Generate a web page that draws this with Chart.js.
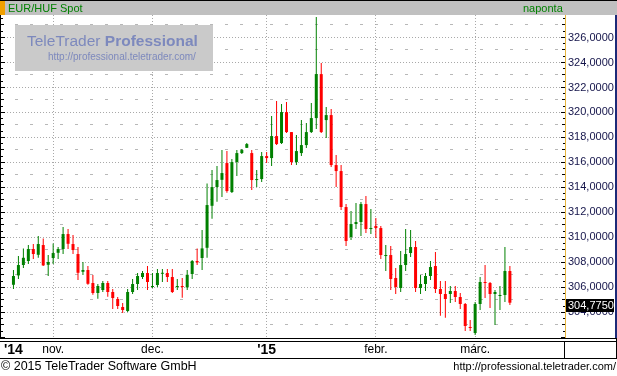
<!DOCTYPE html>
<html>
<head>
<meta charset="utf-8">
<script src="https://cdn.jsdelivr.net/npm/chart.js@4/dist/chart.umd.min.js"></script>
<style>
  html, body { margin: 0; padding: 0; background: #fff; }
  #wrap { position: relative; width: 617px; height: 376px; }
</style>
</head>
<body>
<div id="wrap"><canvas id="chartCanvas"></canvas></div>
<script>
// trading days, 2014-10-22 .. 2015-03-11
const days = [
    "14-10-22", "14-10-23", "14-10-24", "14-10-27", "14-10-28", "14-10-29", "14-10-30", "14-10-31",
    "14-11-03", "14-11-04", "14-11-05", "14-11-06", "14-11-07", "14-11-10", "14-11-11", "14-11-12",
    "14-11-13", "14-11-14", "14-11-17", "14-11-18", "14-11-19", "14-11-20", "14-11-21", "14-11-24",
    "14-11-25", "14-11-26", "14-11-27", "14-11-28",
    "14-12-01", "14-12-02", "14-12-03", "14-12-04", "14-12-05", "14-12-08", "14-12-09", "14-12-10",
    "14-12-11", "14-12-12", "14-12-15", "14-12-16", "14-12-17", "14-12-18", "14-12-19", "14-12-22",
    "14-12-23", "14-12-24", "14-12-25", "14-12-26", "14-12-29", "14-12-30", "14-12-31",
    "15-01-01", "15-01-02", "15-01-05", "15-01-06", "15-01-07", "15-01-08", "15-01-09", "15-01-12",
    "15-01-13", "15-01-14", "15-01-15", "15-01-16", "15-01-19", "15-01-20", "15-01-21", "15-01-22",
    "15-01-23", "15-01-26", "15-01-27", "15-01-28", "15-01-29", "15-01-30",
    "15-02-02", "15-02-03", "15-02-04", "15-02-05", "15-02-06", "15-02-09", "15-02-10", "15-02-11",
    "15-02-12", "15-02-13", "15-02-16", "15-02-17", "15-02-18", "15-02-19", "15-02-20", "15-02-23",
    "15-02-24", "15-02-25", "15-02-26", "15-02-27",
    "15-03-02", "15-03-03", "15-03-04", "15-03-05", "15-03-06", "15-03-09", "15-03-10", "15-03-11"
];

const open = [
    306.21, 306.96, 307.79, 308.11, 309.07, 308.61, 309.39, 307.81, 308.35, 308.77,
    309.07, 310.27, 309.47, 308.67, 307.25, 307.39, 306.35, 305.55, 305.79, 306.35,
    305.63, 305.07, 304.43, 304.11, 305.63, 306.27, 306.83, 307.15, 306.03, 306.19,
    307.09, 307.15, 306.83, 306.03, 306.11, 306.00, 307.07, 308.11, 308.35, 309.17,
    312.53, 314.03, 314.61, 315.95, 313.63, 316.03, 316.75, 317.17, 316.75, 314.59,
    314.67, 316.51, 316.35, 318.11, 317.55, 320.03, 318.43, 316.03, 316.75, 317.39,
    318.43, 319.55, 323.07, 319.39, 319.79, 315.79, 315.31, 312.43, 310.03, 311.07,
    311.23, 312.67, 310.67, 310.91, 310.75, 308.51, 308.59, 306.75, 305.95, 307.79,
    308.75, 309.23, 305.95, 306.27, 306.91, 307.71, 305.87, 305.47, 305.47, 305.71,
    305.23, 304.67, 302.83, 302.35, 304.67, 306.43, 306.35, 305.47, 305.31, 305.39,
    307.31
];
const high = [
    307.39, 308.51, 309.12, 309.39, 309.47, 310.11, 309.92, 308.59, 309.52, 309.23,
    310.83, 310.67, 310.19, 309.23, 308.03, 307.71, 306.99, 306.27, 306.51, 306.51,
    305.87, 305.23, 304.75, 305.87, 306.67, 307.15, 307.31, 307.71, 307.15, 307.47,
    307.47, 307.47, 307.47, 306.67, 306.75, 307.39, 308.19, 309.12, 310.59, 314.32,
    315.39, 315.71, 316.99, 316.91, 316.27, 316.99, 317.07, 317.55, 316.99, 315.39,
    316.83, 316.83, 319.71, 320.91, 320.67, 320.83, 318.43, 318.19, 319.39, 319.15,
    320.75, 327.63, 323.95, 320.43, 320.27, 316.59, 315.79, 312.67, 312.11, 312.75,
    312.83, 313.31, 312.27, 311.55, 310.91, 309.39, 309.31, 307.55, 308.91, 310.67,
    310.59, 309.71, 306.99, 307.15, 308.11, 308.83, 306.51, 306.51, 306.11, 306.11,
    305.55, 304.75, 303.39, 304.83, 306.83, 307.79, 306.43, 305.79, 306.11, 309.23,
    307.71
];
const low = [
    305.87, 306.67, 307.55, 307.87, 308.27, 308.37, 307.71, 306.91, 307.87, 308.27,
    308.67, 309.07, 308.67, 306.59, 306.99, 306.21, 305.41, 305.09, 305.63, 305.25,
    304.27, 304.27, 303.95, 304.03, 305.47, 305.79, 306.67, 305.79, 305.95, 306.03,
    306.43, 306.43, 305.55, 305.79, 305.17, 305.79, 306.67, 307.79, 307.39, 308.37,
    311.49, 312.85, 313.23, 313.57, 313.55, 314.91, 316.67, 317.15, 313.79, 314.03,
    314.43, 315.95, 315.71, 317.39, 317.47, 318.35, 315.79, 315.79, 316.51, 317.15,
    318.35, 318.67, 318.35, 317.95, 315.63, 314.03, 312.19, 309.31, 309.79, 310.67,
    310.11, 310.35, 310.27, 309.95, 308.27, 307.31, 305.79, 305.47, 305.63, 307.31,
    308.43, 305.63, 305.47, 305.71, 306.59, 305.55, 303.73, 303.57, 304.75, 304.83,
    304.27, 302.51, 302.51, 302.19, 304.19, 305.15, 304.35, 302.99, 304.19, 304.83,
    304.59
];
const close = [
    306.91, 307.79, 308.37, 309.07, 308.67, 309.47, 307.76, 308.03, 308.75, 309.07,
    310.27, 309.49, 308.99, 307.17, 307.39, 306.29, 305.55, 306.11, 306.35, 305.63,
    305.15, 304.51, 304.19, 305.63, 306.27, 306.91, 307.15, 306.43, 306.11, 307.15,
    307.17, 306.83, 305.63, 306.11, 306.03, 307.01, 308.11, 308.00, 309.12, 312.59,
    314.03, 314.59, 315.15, 313.71, 316.03, 316.75, 316.99, 317.47, 314.59, 314.67,
    316.51, 316.35, 318.11, 317.47, 320.03, 318.43, 316.03, 316.91, 317.39, 318.43,
    319.55, 323.07, 318.43, 319.79, 315.79, 315.31, 312.43, 309.71, 311.07, 311.23,
    312.67, 310.67, 310.75, 310.75, 308.59, 308.59, 306.67, 306.03, 307.79, 308.67,
    309.23, 305.95, 306.27, 306.91, 307.63, 305.87, 305.47, 305.07, 305.71, 305.23,
    304.67, 302.91, 302.75, 304.67, 306.43, 306.35, 305.47, 305.63, 305.39, 307.31,
    304.775
];

const tickDays = ["14-10-22", "14-11-03", "14-12-01", "15-01-01", "15-02-02", "15-03-02"];
const tickLabels = ["'14", "nov.", "dec.", "'15", "febr.", "márc."];
const priceTicks = [304, 306, 308, 310, 312, 314, 316, 318, 320, 322, 324, 326];

const FONT = "'Liberation Sans', Arial, sans-serif";
const UP = "#008000";
const DOWN = "#ff0000";

const candleColors = open.map((o, i) => close[i] >= o ? UP : DOWN);

function fmt(v) {
    return v.toFixed(4).replace(".", ",");
}

function tickFont(c) {
    const lbl = (c && c.index !== undefined) ? tickLabels[c.index] : "";
    if (lbl && lbl.charAt(0) === "'") {
        return { family: FONT, size: 14, weight: "bold" };
    }
    return { family: FONT, size: 12 };
}

const frame = {
    id: "frame",
    beforeDraw(chart) {
        const c = chart.ctx;
        c.save();
        c.fillStyle = "#fff";
        c.fillRect(0, 0, chart.width, chart.height);
        // header
        c.fillStyle = "#c0c0c0";
        c.fillRect(0, 0, chart.width, 15);
        c.fillStyle = "#000";
        c.fillRect(0, 0, chart.width, 1);
        c.fillStyle = "#f0a000";
        c.fillRect(0, 1, 5, 14);
        c.fillStyle = "#008000";
        c.font = "11px " + FONT;
        c.textBaseline = "alphabetic";
        c.fillText("EUR/HUF Spot", 8, 12);
        c.fillText("naponta", 523, 12);
        c.restore();
    },
    beforeDatasetsDraw(chart) {
        const c = chart.ctx;
        const a = chart.chartArea;
        const x = chart.scales.x;
        const y = chart.scales.y;
        c.save();
        c.lineWidth = 1;
        // minor dashes at odd values
        c.fillStyle = "#b8b8b8";
        for (let v = Math.ceil(y.min); v <= y.max; v++) {
            if (v % 2 === 0) continue;
            const py = Math.floor(y.getPixelForValue(v));
            for (let px = 15; px < a.right - 2; px += 15) {
                c.fillRect(px, py, 3, 1);
            }
        }
        // dotted grid
        c.strokeStyle = "#a8a8a8";
        c.setLineDash([1, 2]);
        priceTicks.forEach(v => {
            const py = Math.floor(y.getPixelForValue(v)) + 0.5;
            c.beginPath();
            c.moveTo(a.left, py);
            c.lineTo(a.right, py);
            c.stroke();
        });
        tickDays.forEach((d, i) => {
            if (i === 0) return;
            const px = Math.floor(x.getPixelForValue(days.indexOf(d))) + 0.5;
            c.beginPath();
            c.moveTo(px, a.top);
            c.lineTo(px, a.bottom);
            c.stroke();
        });
        c.setLineDash([]);
        // watermark
        c.fillStyle = "#cacaca";
        c.fillRect(15, 25, 198, 46);
        c.fillStyle = "#7d89bd";
        c.font = "15.5px " + FONT;
        c.fillText("TeleTrader ", 27, 46);
        const w = c.measureText("TeleTrader ").width;
        c.font = "bold 15.5px " + FONT;
        c.fillText("Professional", 27 + w, 46);
        c.font = "10px " + FONT;
        c.fillText("http://professional.teletrader.com/", 48, 60);
        c.restore();
    },
    afterDraw(chart) {
        const c = chart.ctx;
        const a = chart.chartArea;
        const y = chart.scales.y;
        c.save();
        // left edge with ticks
        c.fillStyle = "#000";
        c.fillRect(0, a.top, 1, a.bottom - a.top);
        for (let v = Math.ceil(y.min * 2) / 2; v <= y.max; v += 0.5) {
            const py = Math.floor(y.getPixelForValue(v));
            let len = 3;
            if (v % 1 === 0) len = v % 2 === 0 ? 5 : 4;
            c.fillRect(0, py, len, 1);
            c.fillRect(a.right - len + 1, py, len - 1, 1);
        }
        // right axis line
        c.fillStyle = "#e6b43c";
        c.fillRect(a.right, a.top, 1, a.bottom - a.top);
        // right border
        c.fillStyle = "#1c2a78";
        c.fillRect(615, a.top, 2, a.bottom - a.top);
        // bottom lines
        c.fillStyle = "#000";
        c.fillRect(0, 338, chart.width, 1);
        c.fillRect(0, 341, chart.width, 1);
        c.fillRect(0, 358, chart.width, 1);
        c.fillRect(564, 341, 1, 17);
        c.fillRect(616, 338, 1, 20);
        // last price box
        const last = close[close.length - 1];
        const py = Math.round(y.getPixelForValue(last));
        c.fillStyle = "#000";
        c.fillRect(a.right + 1, py - 4, 48, 13);
        c.fillStyle = "#fff";
        c.font = "11px " + FONT;
        c.textBaseline = "middle";
        c.fillText(fmt(last), a.right + 3, py + 2.5);
        // footer
        c.fillStyle = "#000";
        c.textBaseline = "alphabetic";
        c.font = "12.5px " + FONT;
        c.fillText("\u00a9 2015 TeleTrader Software GmbH", 1, 370);
        c.font = "11px " + FONT;
        c.textAlign = "right";
        c.fillText("http://professional.teletrader.com/", 616, 370);
        c.restore();
    }
};

const ctx = document.getElementById("chartCanvas").getContext("2d");

const chart = new Chart(ctx, {
    type: "bar",
    data: {
        datasets: [
            {
                label: "body",
                data: days.map((d, i) => ({ x: i, y: [open[i], close[i]] })),
                backgroundColor: candleColors,
                barThickness: 3,
                minBarLength: 1,
                inflateAmount: 0,
                grouped: false,
                order: 0
            },
            {
                label: "wick",
                data: days.map((d, i) => ({ x: i, y: [low[i], high[i]] })),
                backgroundColor: candleColors,
                barThickness: 1,
                inflateAmount: 0,
                grouped: false,
                order: 1
            }
        ]
    },
    options: {
        responsive: true,
        maintainAspectRatio: false,
        animation: false,
        events: [],
        layout: { padding: { top: 15, bottom: 18, left: 0, right: 0 } },
        plugins: {
            legend: { display: false },
            tooltip: { enabled: false }
        },
        scales: {
            x: {
                type: "linear",
                min: -1.9,
                max: 111.1,
                offset: false,
                grid: { display: false, drawTicks: false },
                border: { display: false },
                afterBuildTicks: s => {
                    s.ticks = tickDays.map(d => ({ value: days.indexOf(d) }));
                },
                afterFit: s => { s.height = 20; },
                ticks: {
                    autoSkip: false,
                    maxRotation: 0,
                    padding: 4,
                    color: "#000",
                    font: tickFont,
                    callback: (v, i) => tickLabels[i]
                }
            },
            y: {
                position: "right",
                min: 301.95,
                max: 327.8,
                grid: { display: false, drawTicks: false },
                border: { display: false },
                afterBuildTicks: s => {
                    s.ticks = priceTicks.map(v => ({ value: v }));
                },
                afterFit: s => { s.width = 52; },
                ticks: {
                    padding: 3,
                    color: "#14144a",
                    font: { family: FONT, size: 11 },
                    callback: v => fmt(v)
                }
            }
        }
    },
    plugins: [frame]
});
</script>
</body>
</html>
